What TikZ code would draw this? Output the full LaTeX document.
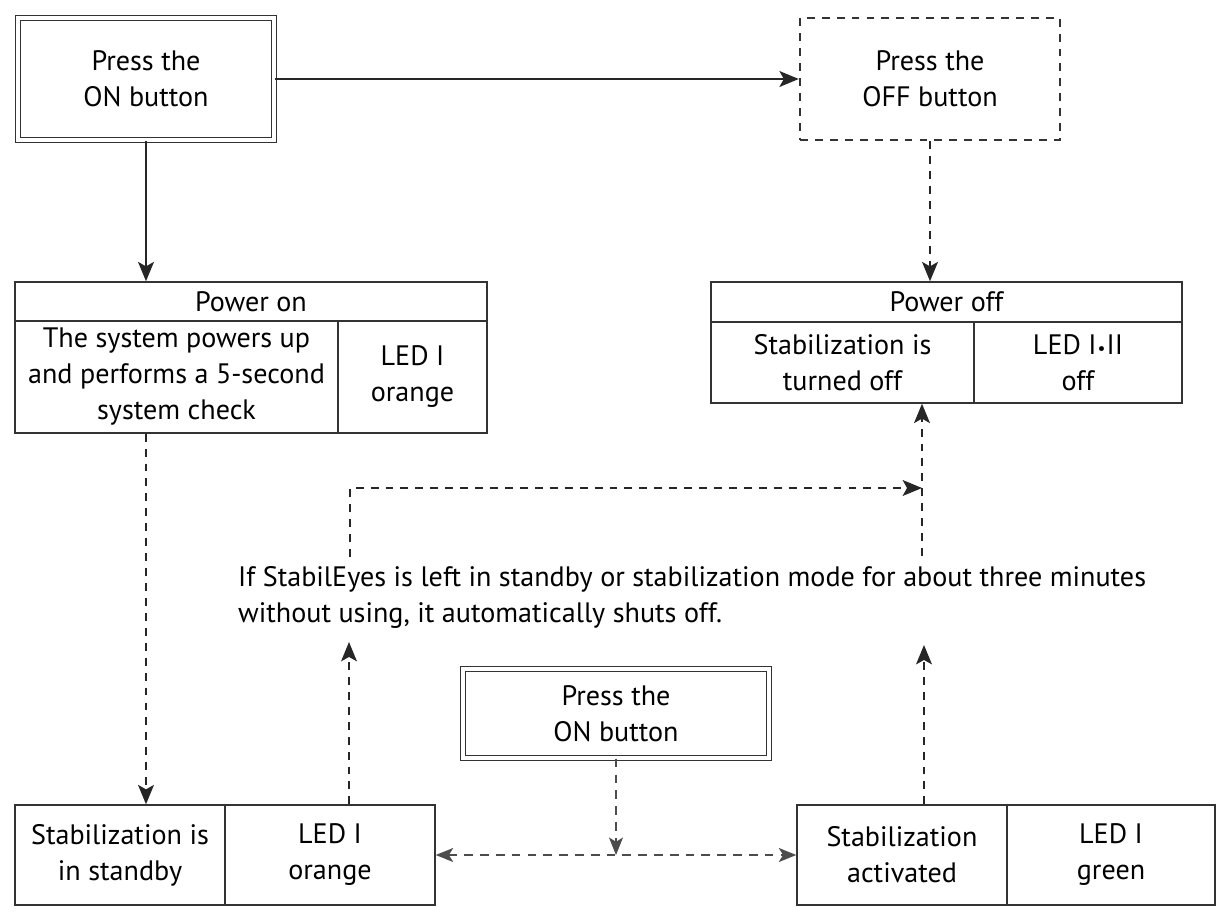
\documentclass[tikz,border=0pt]{standalone}
\usepackage{fontspec}
\setmainfont{PT Sans}
\usetikzlibrary{arrows.meta}

\begin{document}
\begin{tikzpicture}[x=0.02cm,y=-0.02cm,
		font=\fontsize{16}{20.5}\selectfont,
		box/.style={draw=black!80,line width=0.8pt,inner sep=0pt,align=center},
		dbox/.style={box,double,double distance=2.3pt},
		dashbox/.style={box,line width=1.4pt,dash pattern=on 4.5pt off 4pt},
		flow/.style={draw=black!85,line width=1.3pt,-{Stealth[length=11pt,width=9pt,inset=2.5pt]}},
		dflow/.style={flow,dash pattern=on 4.5pt off 4pt},
		tflow/.style={draw=black!70,line width=0.7pt,dash pattern=on 5pt off 4pt,-{Stealth[length=10pt,width=8pt,inset=2.5pt]}}]
		\useasboundingbox (0,0) rectangle (1221,912);
		% buttons
		\node[dbox,minimum width=5.12cm,minimum height=2.44cm] (on1) at (146,79) {Press the\\ON button};
		\node[dashbox,minimum width=5.2cm,minimum height=2.44cm] (off1) at (930,79) {Press the\\OFF button};
		\node[dbox,minimum width=6.12cm,minimum height=1.78cm] (on2) at (616,713.5) {Press the\\ON button};
		% power on
		\node[box,minimum width=9.44cm,minimum height=0.78cm] (onhead) at (251,301.5) {Power on};
		\node[box,minimum width=6.46cm,minimum height=2.24cm] (ontext) at (176.5,377) {The system powers up\\and performs a 5-second\\system check};
		\node[box,minimum width=2.98cm,minimum height=2.24cm] (onled) at (412.5,377) {LED I\\orange};
		% power off
		\node[box,minimum width=9.42cm,minimum height=0.8cm] (offhead) at (946.5,302) {Power off};
		\node[box,minimum width=5.26cm,minimum height=1.62cm] (offtext) at (842.5,362.5) {Stabilization is\\turned off};
		\node[box,minimum width=4.16cm,minimum height=1.62cm] (offled) at (1078,362.5) {LED I\kern.6pt{\fontsize{10}{10}\selectfont •}\kern.6pt II\\off};
		% standby / activated
		\node[box,minimum width=4.2cm,minimum height=2cm] (sbtext) at (120,855) {Stabilization is\\in standby};
		\node[box,minimum width=4.2cm,minimum height=2cm] (sbled) at (330,855) {LED I\\orange};
		\node[box,minimum width=4.2cm,minimum height=2cm] (actext) at (902,855) {Stabilization\\activated};
		\node[box,minimum width=4.16cm,minimum height=2cm] (acled) at (1111,855) {LED I\\green};
		\node[anchor=west,align=left] (note) at (232,597) {If StabilEyes is left in standby or stabilization mode for about three minutes\\without using, it automatically shuts off.};
		% connectors
		\coordinate (sbup) at (349,642);
		\coordinate (acup) at (924,645);
		\coordinate (loopa) at (350,557);
		\coordinate (loopb) at (922,488);
		\coordinate (loopc) at (922,556);
		\draw[flow] (on1) -- (off1);
		\draw[flow] (on1.south) -- (on1.south |- onhead.north);
		\draw[dflow] (off1.south) -- (off1.south |- offhead.north);
		\draw[dflow] (on1.south |- ontext.south) -- (on1.south |- sbtext.north);
		\draw[dflow] (sbup |- sbled.north) -- (sbup);
		\draw[dflow] (acup |- actext.north) -- (acup);
		\draw[dflow] (loopa) |- (loopb);
		\draw[dflow] (loopc) -- (loopc |- offtext.south);
		\draw[tflow] (on2.south) -- (on2.south |- sbled.east);
		\draw[tflow,{Stealth[length=10pt,width=8pt,inset=2.5pt]}-{Stealth[length=10pt,width=8pt,inset=2.5pt]}] (sbled.east) -- (actext.west);
	\end{tikzpicture}
\end{document}
